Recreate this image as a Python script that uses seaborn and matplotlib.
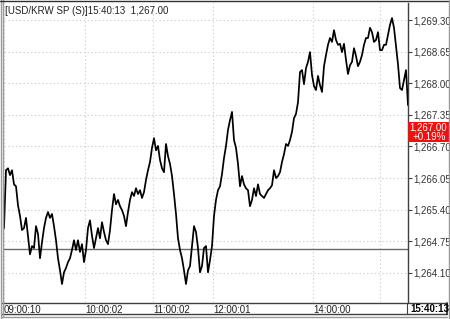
import matplotlib
matplotlib.use("Agg")
import matplotlib.pyplot as plt
import matplotlib.transforms as mtransforms
from matplotlib.patches import Rectangle
from matplotlib.lines import Line2D
import seaborn as sns
import pandas as pd

# ---------------- data ----------------
prices = [
    1265.02, 1266.21, 1266.25, 1266.11, 1266.21, 1265.92, 1265.88, 1265.49, 1265.27, 1264.98,
    1265.02, 1265.23, 1264.86, 1264.48, 1264.65, 1264.61, 1265.06, 1264.90, 1264.40, 1264.73,
    1265.02, 1265.23, 1265.35, 1265.23, 1265.31, 1265.06, 1264.77, 1264.40, 1264.15, 1263.87,
    1264.11, 1264.20, 1264.32, 1264.40, 1264.57, 1264.77, 1264.57, 1264.77, 1264.53, 1264.69,
    1264.32, 1264.57, 1265.02, 1265.18, 1264.86, 1264.61, 1264.81, 1265.02, 1264.81, 1265.14,
    1264.94, 1264.77, 1264.69, 1264.98, 1265.39, 1265.72, 1265.51, 1265.60, 1265.47, 1265.39,
    1265.27, 1265.06, 1265.35, 1265.60, 1265.76, 1265.68, 1265.84, 1265.72, 1265.80, 1265.64,
    1265.76, 1266.01, 1266.21, 1266.38, 1266.67, 1266.87, 1266.62, 1266.71, 1266.42, 1266.25,
    1266.17, 1266.75, 1266.50, 1266.34, 1266.09, 1265.72, 1265.31, 1264.81, 1264.57, 1264.40,
    1264.15, 1263.87, 1264.15, 1264.24, 1264.65, 1265.06, 1264.94, 1264.61, 1264.11, 1264.24,
    1264.61, 1264.65, 1264.11, 1264.36, 1264.65, 1265.27, 1265.60, 1265.80, 1265.88, 1266.13,
    1266.46, 1266.71, 1267.04, 1267.24, 1267.41, 1266.83, 1266.67, 1266.34, 1265.88, 1266.09,
    1265.92, 1265.84, 1265.80, 1265.47, 1265.60, 1265.84, 1265.68, 1265.92, 1265.72, 1265.68,
    1265.64, 1265.72, 1265.80, 1265.84, 1265.90, 1266.21, 1266.05, 1266.09, 1266.17, 1266.38,
    1266.54, 1266.75, 1266.71, 1266.83, 1267.00, 1267.28, 1267.37, 1267.61, 1268.23, 1268.27,
    1267.98, 1268.31, 1268.44, 1268.64, 1268.17, 1267.94, 1267.86, 1268.15, 1267.96, 1267.82,
    1268.35, 1268.58, 1268.79, 1268.93, 1268.85, 1269.09, 1268.89, 1268.79, 1268.81, 1268.64,
    1268.81, 1268.48, 1268.19, 1268.37, 1268.44, 1268.72, 1268.56, 1268.35, 1268.44, 1268.58,
    1268.79, 1268.93, 1268.93, 1269.14, 1269.05, 1268.85, 1268.89, 1269.05, 1268.68, 1268.68,
    1268.79, 1268.79, 1268.99, 1269.20, 1269.34, 1269.14, 1268.76, 1268.39, 1267.90, 1267.86,
    1268.07, 1268.27, 1267.55,
]
time_tick_index = [0, 40.5, 74.5, 104.5, 154.5]
time_tick_labels = ["09:00:10", "10:00:02", "11:00:02", "12:00:01", "14:00:00"]
grid_x_index = [0, 40.5, 74.5, 104.5, 154.5, 188]
last_time_label = "15:40:13"
price_ticks = [1264.10, 1264.75, 1265.40, 1266.05, 1266.70, 1267.35, 1268.00, 1268.65, 1269.30]
prev_close = 1264.60
last_price = 1267.00
change_pct = "+0.19%"
title_text = "[USD/KRW SP (S)]15:40:13  1,267.00"

df = pd.DataFrame({"idx": range(len(prices)), "price": prices})

# ---------------- figure ----------------
sns.set_style("white")
plt.rcParams["font.family"] = ["Liberation Sans", "DejaVu Sans"]

W, H = 450, 319
fig = plt.figure(figsize=(W / 100, H / 100), dpi=100)
fig.patch.set_facecolor("white")

def fx(px):
    return px / W

def fy(py):
    return 1 - py / H

ax = fig.add_axes([fx(4), fy(302), fx(408) - fx(4), fy(3) - fy(302)])
ax.set_facecolor("white")

# grid
for p in price_ticks:
    ax.axhline(p, color="#d0d0d0", lw=0.8, ls=(0, (1.2, 2.2)), zorder=0)
for gx in grid_x_index:
    ax.axvline(gx, color="#d0d0d0", lw=0.8, ls=(0, (1.2, 2.2)), zorder=0)

# previous close reference line
ax.axhline(prev_close, color="#6a6a6a", lw=1.0, zorder=1)

sns.lineplot(data=df, x="idx", y="price", ax=ax, color="black", lw=1.25, zorder=3,
             legend=False)

ax.set_xlim(0, len(prices) - 1)
ax.set_ylim(1263.50, 1269.65)
ax.set_xlabel("")
ax.set_ylabel("")

# spines
for s in ["left", "bottom", "top"]:
    ax.spines[s].set_visible(False)
ax.spines["right"].set_color("#404040")
ax.spines["right"].set_linewidth(1.0)

# y ticks on right
ax.yaxis.tick_right()
ax.set_yticks(price_ticks)
ax.set_yticklabels([f"{p:,.2f}" for p in price_ticks])
ax.tick_params(axis="y", direction="out", length=3, width=0.8, color="#404040",
               labelsize=7, labelcolor="#333333", pad=1)

# x ticks inside the bottom band
ax.set_xticks(time_tick_index)
ax.set_xticklabels(time_tick_labels)
ax.tick_params(axis="x", length=0, labelsize=7, labelcolor="#222222", pad=2)
for lab in ax.get_xticklabels():
    lab.set_horizontalalignment("left")

# bottom band frame
fig.add_artist(Line2D([fx(2), fx(447)], [fy(302.5), fy(302.5)], color="#404040", lw=1.0))
fig.add_artist(Line2D([fx(2), fx(447)], [fy(314), fy(314)], color="#404040", lw=1.0))
fig.add_artist(Line2D([fx(2), fx(447)], [fy(316.5), fy(316.5)], color="#9a9a9a", lw=1.0))
fig.add_artist(Line2D([fx(447), fx(447)], [fy(302.5), fy(314)], color="#202020", lw=1.2))
fig.add_artist(Line2D([fx(407), fx(407)], [fy(302.5), fy(314)], color="#404040", lw=0.8))
fig.text(fx(410), fy(308.5), last_time_label, fontsize=7, fontweight="bold",
         color="black", ha="left", va="center")

# outer frame
fig.add_artist(Line2D([fx(0.5), fx(0.5)], [0, 1], color="#9a9a9a", lw=1.0))
fig.add_artist(Line2D([fx(2.5), fx(2.5)], [fy(316), 1], color="#9a9a9a", lw=1.0))
fig.add_artist(Line2D([0, 1], [fy(0.5), fy(0.5)], color="#303030", lw=1.0))
fig.add_artist(Line2D([fx(448.5), fx(448.5)], [0, 1], color="#9a9a9a", lw=1.0))

# title
ax.text(0.003, fy(10.5), title_text,
        transform=mtransforms.blended_transform_factory(ax.transAxes, fig.transFigure),
        fontsize=7, color="#222222", ha="left", va="center", zorder=5)

# red last-price badge
trans = mtransforms.blended_transform_factory(ax.transAxes, ax.transData)
ax.add_patch(Rectangle((1.0, last_price - 0.205), 0.12, 0.41, transform=trans,
                       facecolor="#ee1111", edgecolor="none", clip_on=False, zorder=6))
ax.text(1.004, last_price + 0.09, f"{last_price:,.2f}", transform=trans, fontsize=7,
        color="white", ha="left", va="center", clip_on=False, zorder=7)
ax.text(1.012, last_price - 0.10, change_pct, transform=trans, fontsize=7,
        color="white", ha="left", va="center", clip_on=False, zorder=7)

fig.savefig("out.png", dpi=100, facecolor="white")
